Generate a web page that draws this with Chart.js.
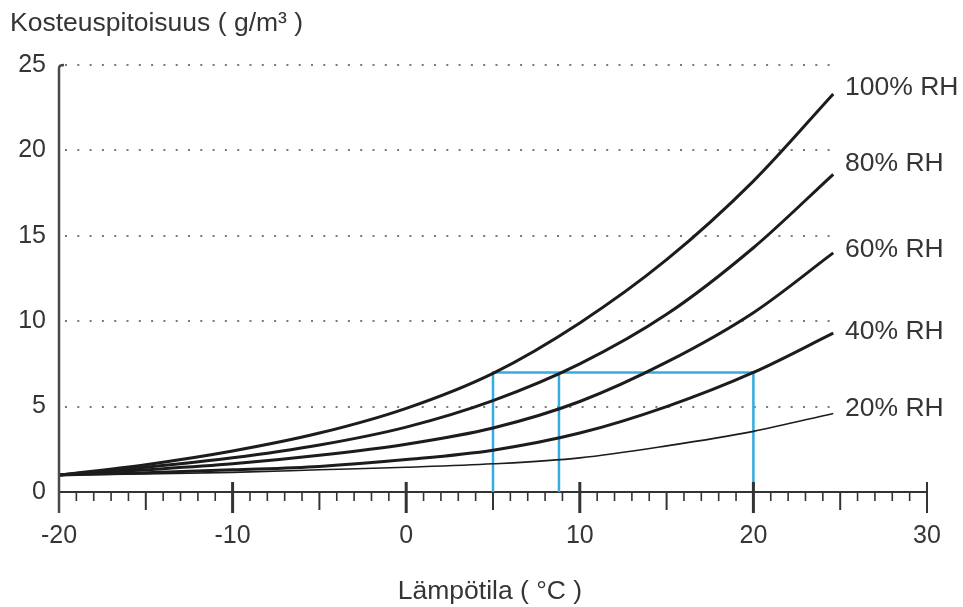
<!DOCTYPE html>
<html>
<head>
<meta charset="utf-8">
<script src="https://cdn.jsdelivr.net/npm/chart.js@4"></script>
<style>
  html, body { margin: 0; padding: 0; background: #fff; }
  #wrap { width: 963px; height: 607px; }
</style>
</head>
<body>
<div id="wrap"><canvas id="rhChart" width="963" height="607"></canvas></div>
<script>
// values
const temps = [-20, -15, -10, -5, 0, 5, 10, 15, 20, 24.6];
const rh100 = [1.0, 1.6, 2.4, 3.45, 4.9, 6.95, 9.9, 13.6, 18.2, 23.3];
const rh80 = [1.0, 1.45, 2.0, 2.75, 3.8, 5.35, 7.5, 10.4, 14.3, 18.6];
const rh60 = [1.0, 1.3, 1.65, 2.15, 2.8, 3.75, 5.3, 7.6, 10.5, 14.0];
const rh40 = [1.0, 1.12, 1.3, 1.5, 1.9, 2.45, 3.45, 5.0, 7.0, 9.3];
const rh20 = [1.0, 1.05, 1.15, 1.3, 1.45, 1.65, 2.0, 2.7, 3.55, 4.6];
const rhLabels = ['100% RH', '80% RH', '60% RH', '40% RH', '20% RH'];

// blue reading lines: three temperatures at one humidity level
const guideTemps = [5, 8.8, 20];
const guideHumidity = 7;

const xTicks = { min: -20, max: 30, step: 10 };
const yTicks = { min: 0, max: 25, step: 5 };

const yTitle = 'Kosteuspitoisuus ( g/m³ )';
const xTitle = 'Lämpötila ( °C )';

const FONT = "'Liberation Sans', Arial, sans-serif";
const TEXT = '#353535';

document.addEventListener('DOMContentLoaded', () => {
    const ctx = document.getElementById('rhChart').getContext('2d');

    const toPoints = (ys) => temps.map((t, i) => ({ x: t, y: ys[i] }));
    const curves = [rh100, rh80, rh60, rh40, rh20];

    const curveSets = curves.map((ys, i) => ({
        label: rhLabels[i],
        data: toPoints(ys),
        borderColor: '#1c1c1c',
        borderWidth: i === 4 ? 1.6 : 3,
        pointRadius: 0,
        cubicInterpolationMode: 'monotone',
        fill: false
    }));

    const guideSets = [
        {
            label: 'guide',
            data: [
                { x: guideTemps[0], y: 0 },
                { x: guideTemps[0], y: guideHumidity },
                { x: guideTemps[2], y: guideHumidity },
                { x: guideTemps[2], y: 0 }
            ],
            borderColor: '#35acdf',
            borderWidth: 2.5,
            pointRadius: 0,
            tension: 0
        },
        {
            label: 'guide2',
            data: [
                { x: guideTemps[1], y: 0 },
                { x: guideTemps[1], y: guideHumidity }
            ],
            borderColor: '#35acdf',
            borderWidth: 2.5,
            pointRadius: 0,
            tension: 0
        }
    ];

    // axis decorations, dotted grid, curve labels and titles
    const decor = {
        id: 'decor',
        beforeDatasetsDraw(chart) {
            const { ctx, scales: { x, y } } = chart;
            const xEnd = x.getPixelForValue(temps[temps.length - 1]);
            ctx.save();
            ctx.strokeStyle = '#7a7a7a';
            ctx.lineWidth = 2;
            ctx.setLineDash([2, 10.3]);
            for (let v = yTicks.step; v <= yTicks.max; v += yTicks.step) {
                const py = Math.round(y.getPixelForValue(v));
                ctx.beginPath();
                ctx.moveTo(x.left + 6, py);
                ctx.lineTo(xEnd, py);
                ctx.stroke();
            }
            ctx.restore();
        },
        afterDraw(chart) {
            const { ctx, scales: { x, y }, chartArea } = chart;
            const base = y.getPixelForValue(0);
            ctx.save();

            // y axis line with the small hook at the top
            ctx.strokeStyle = '#4a4a4a';
            ctx.lineWidth = 2.5;
            ctx.beginPath();
            ctx.moveTo(x.left, base + 21);
            ctx.lineTo(x.left, chartArea.top + 3);
            ctx.quadraticCurveTo(x.left, chartArea.top, x.left + 5, chartArea.top);
            ctx.stroke();

            // x axis tick marks
            ctx.strokeStyle = '#333';
            for (let v = xTicks.min + 1; v <= xTicks.max; v++) {
                const px = x.getPixelForValue(v);
                ctx.beginPath();
                if (v % 10 === 0) {
                    ctx.lineWidth = v === xTicks.max ? 2 : 3;
                    ctx.moveTo(px, base - 10);
                    ctx.lineTo(px, base + 21);
                } else if (v % 5 === 0) {
                    ctx.lineWidth = 2;
                    ctx.moveTo(px, base);
                    ctx.lineTo(px, base + 18);
                } else {
                    ctx.lineWidth = 1.6;
                    ctx.moveTo(px, base);
                    ctx.lineTo(px, base + 9);
                }
                ctx.stroke();
            }

            // curve labels at the line ends
            const nudge = [-6, -11, -3, -1, -5];
            ctx.fillStyle = TEXT;
            ctx.font = '26.5px ' + FONT;
            ctx.textAlign = 'left';
            ctx.textBaseline = 'middle';
            curves.forEach((ys, i) => {
                const py = y.getPixelForValue(ys[ys.length - 1]) + nudge[i];
                ctx.fillText(rhLabels[i], 845, py);
            });

            // titles
            ctx.font = '26.5px ' + FONT;
            ctx.textBaseline = 'alphabetic';
            ctx.fillText(yTitle, 10, 31);
            ctx.textAlign = 'center';
            ctx.fillText(xTitle, (chartArea.left + chartArea.right) / 2 - 3, 599);
            ctx.restore();
        }
    };

    new Chart(ctx, {
        type: 'line',
        data: { datasets: curveSets.concat(guideSets) },
        options: {
            responsive: false,
            animation: false,
            layout: { padding: { top: 65, right: 36, left: 0, bottom: 0 } },
            plugins: {
                legend: { display: false },
                tooltip: { enabled: false }
            },
            scales: {
                x: {
                    type: 'linear',
                    min: xTicks.min,
                    max: xTicks.max,
                    afterFit: (scale) => {
                        scale.height = 115;
                        scale.paddingLeft = 0;
                        scale.paddingRight = 0;
                    },
                    grid: { display: false, drawTicks: false },
                    border: { display: true, color: '#333', width: 2 },
                    ticks: {
                        stepSize: xTicks.step,
                        padding: 29,
                        color: TEXT,
                        font: { size: 25, family: FONT },
                        maxRotation: 0
                    }
                },
                y: {
                    type: 'linear',
                    min: yTicks.min,
                    max: yTicks.max,
                    afterFit: (scale) => { scale.width = 59; },
                    grid: { display: false, drawTicks: false },
                    border: { display: false },
                    ticks: {
                        stepSize: yTicks.step,
                        padding: 13,
                        color: TEXT,
                        font: { size: 25, family: FONT }
                    }
                }
            }
        },
        plugins: [decor]
    });
});
</script>
</body>
</html>
